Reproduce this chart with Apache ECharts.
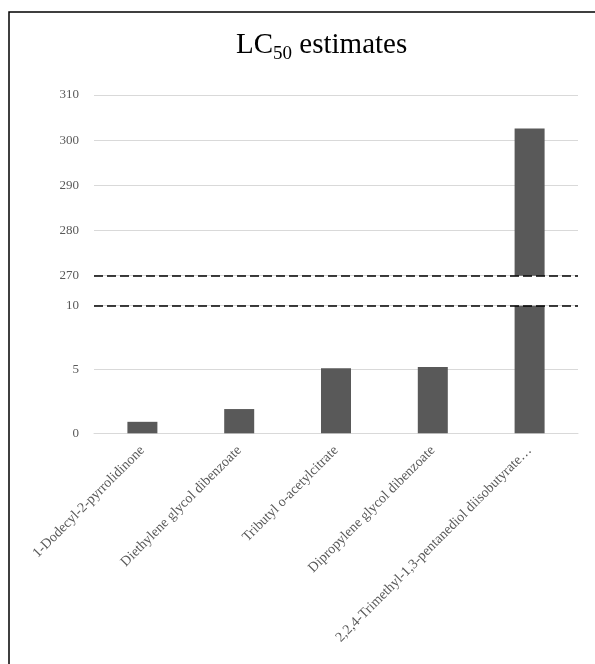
<!DOCTYPE html>
<html>
<head>
<meta charset="utf-8">
<script src="https://cdn.jsdelivr.net/npm/echarts@6/dist/echarts.min.js"></script>
<style>
html,body{margin:0;padding:0;background:#fff;}
#chart{width:595px;height:664px;}
</style>
</head>
<body>
<div id="chart"></div>
<script>
var categories = [
  '1-Dodecyl-2-pyrrolidinone',
  'Diethylene glycol dibenzoate',
  'Tributyl o-acetylcitrate',
  'Dipropylene glycol dibenzoate',
  '2,2,4-Trimethyl-1,3-pentanediol diisobutyrate\u2026'
];
var lc50Values = [0.9, 1.9, 5.1, 5.2, 302.6];
var upperTicks = [270, 280, 290, 300, 310];
var lowerTicks = [0, 5, 10];

var upperMin = upperTicks[0], upperMax = upperTicks[upperTicks.length - 1];
var lowerMin = lowerTicks[0], lowerMax = lowerTicks[lowerTicks.length - 1];

var upperData = lc50Values.map(function (v) { return v > upperMin ? v : '-'; });
var lowerData = lc50Values.map(function (v) { return Math.min(v, lowerMax); });

var serif = "'Liberation Serif', 'Times New Roman', serif";
var gray = '#595959';
var gridGray = '#d9d9d9';
var left = 94, right = 17;

var chart = echarts.init(document.getElementById('chart'), null, {renderer: 'canvas'});
chart.setOption({
  animation: false,
  backgroundColor: '#fff',
  title: {
    text: '{a|LC}{s|50}{a| estimates}',
    left: 231,
    top: 25,
    textStyle: {
      fontWeight: 'normal',
      rich: {
        a: {fontFamily: serif, fontSize: 29, fontWeight: 'normal', color: '#000', verticalAlign: 'bottom', lineHeight: 30},
        s: {fontFamily: serif, fontSize: 19, fontWeight: 'normal', color: '#000', verticalAlign: 'bottom', lineHeight: 22, padding: [0, 0, -4, 0]}
      }
    }
  },
  graphic: [{
    type: 'rect',
    silent: true,
    shape: {x: 9, y: 12, width: 800, height: 800},
    style: {fill: 'none', stroke: '#000', lineWidth: 1.5}
  }],
  grid: [
    {left: left, right: right, top: 95, height: 180.7},
    {left: left, right: right, top: 305.7, height: 127.6}
  ],
  xAxis: [
    {
      type: 'category', gridIndex: 0, data: categories,
      axisLine: {show: false}, axisTick: {show: false}, axisLabel: {show: false}, splitLine: {show: false}
    },
    {
      type: 'category', gridIndex: 1, data: categories,
      axisLine: {show: true, lineStyle: {color: gridGray, width: 1}},
      axisTick: {show: false},
      axisLabel: {rotate: 45, margin: 15, interval: 0, color: gray, fontFamily: serif, fontSize: 14}
    }
  ],
  yAxis: [
    {
      type: 'value', gridIndex: 0, min: upperMin, max: upperMax, interval: 10,
      axisLine: {show: false}, axisTick: {show: false},
      axisLabel: {color: gray, fontFamily: serif, fontSize: 13, margin: 15},
      splitLine: {lineStyle: {color: gridGray, width: 1}}
    },
    {
      type: 'value', gridIndex: 1, min: lowerMin, max: lowerMax, interval: 5,
      axisLine: {show: false}, axisTick: {show: false},
      axisLabel: {color: gray, fontFamily: serif, fontSize: 13, margin: 15},
      splitLine: {lineStyle: {color: gridGray, width: 1}}
    }
  ],
  series: [
    {
      type: 'bar', xAxisIndex: 0, yAxisIndex: 0, data: upperData, barWidth: 30, clip: true,
      itemStyle: {color: '#595959'},
      markLine: {
        silent: true, symbol: 'none', label: {show: false},
        lineStyle: {color: '#000', type: [9, 4], width: 1.5},
        data: [{yAxis: upperMin}]
      }
    },
    {
      type: 'bar', xAxisIndex: 1, yAxisIndex: 1, data: lowerData, barWidth: 30, clip: true,
      itemStyle: {color: '#595959'},
      markLine: {
        silent: true, symbol: 'none', label: {show: false},
        lineStyle: {color: '#000', type: [9, 4], width: 1.5},
        data: [{yAxis: lowerMax}]
      }
    }
  ]
});
</script>
</body>
</html>
